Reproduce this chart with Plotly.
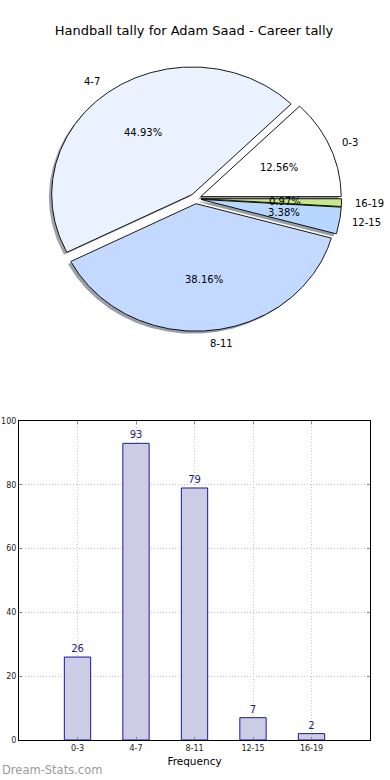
import numpy as np
import plotly.graph_objects as go

# ---- data ----
categories = ["0-3", "4-7", "8-11", "12-15", "16-19"]
counts = [26, 93, 79, 7, 2]
pie_colors = ["#FFFFFF", "#EAF2FF", "#C4D9FF", "#B7D7FF", "#C5E88A"]
explode = [0.04, 0.04, 0.04, 0.04, 0.04]
title_text = "Handball tally for Adam Saad - Career tally"
y_ticks = [0, 20, 40, 60, 80, 100]

W, H = 390, 780
FONT = "DejaVu Sans"

# ---- layout geometry (pixels from top-left) ----
pie_cx, pie_cy = 195.5, 198.6      # pie centre
pie_rx, pie_ry = 140.5, 127.5      # ellipse radii
pie_top, pie_bot = 40, 380         # pie axis domain
bar_l, bar_r, bar_t, bar_b = 19, 370, 421, 740

fig = go.Figure()

# ---- pie drawn as filled polygons on its own axes ----
total = float(sum(counts))
fracs = [c / total for c in counts]
bounds = np.concatenate([[0.0], np.cumsum(fracs) * 360.0])

def wedge(t1, t2, ox, oy):
    th = np.radians(np.linspace(t1, t2, max(int((t2 - t1) * 2), 4)))
    xs = np.concatenate([[ox], ox + np.cos(th), [ox]])
    ys = np.concatenate([[oy], oy + np.sin(th), [oy]])
    return xs, ys

def hex_rgb(h):
    h = h.lstrip("#")
    return tuple(int(h[i:i + 2], 16) for i in (0, 2, 4))

# shadows first
for i, c in enumerate(counts):
    t1, t2 = bounds[i], bounds[i + 1]
    tm = np.radians((t1 + t2) / 2)
    ox, oy = explode[i] * np.cos(tm), explode[i] * np.sin(tm)
    xs, ys = wedge(t1, t2, ox - 0.02, oy - 0.02)
    r, g, b = hex_rgb(pie_colors[i])
    fig.add_trace(go.Scatter(
        x=xs, y=ys, mode="lines", fill="toself",
        fillcolor=f"rgba({int(r*0.3)},{int(g*0.3)},{int(b*0.3)},0.5)",
        line=dict(width=0), xaxis="x2", yaxis="y2",
        hoverinfo="skip", showlegend=False))

annotations = []
for i, c in enumerate(counts):
    t1, t2 = bounds[i], bounds[i + 1]
    tm = np.radians((t1 + t2) / 2)
    ox, oy = explode[i] * np.cos(tm), explode[i] * np.sin(tm)
    xs, ys = wedge(t1, t2, ox, oy)
    fig.add_trace(go.Scatter(
        x=xs, y=ys, mode="lines", fill="toself",
        fillcolor=pie_colors[i], line=dict(color="black", width=0.9),
        xaxis="x2", yaxis="y2", name=categories[i],
        hoverinfo="skip", showlegend=False))
    lx = ox + 1.1 * np.cos(tm)
    ly = oy + 1.1 * np.sin(tm)
    left = lx > 0
    annotations.append(dict(
        x=lx, y=ly, xref="x2", yref="y2", text=categories[i],
        showarrow=False, xanchor="left" if left else "right",
        xshift=-3 if left else 1,
        yanchor="middle", font=dict(family=FONT, size=10, color="black")))
    px_, py_ = ox + 0.6 * np.cos(tm), oy + 0.6 * np.sin(tm)
    annotations.append(dict(
        x=px_, y=py_, xref="x2", yref="y2",
        text=f"{fracs[i]*100:.2f}%", showarrow=False,
        xanchor="center", yanchor="middle",
        font=dict(family=FONT, size=10, color="black")))

# pie axes ranges so that 1 unit = pie_rx px horizontally, pie_ry px vertically
x2_range = [(0 - pie_cx) / pie_rx, (W - pie_cx) / pie_rx]
y2_range = [-(pie_bot - pie_cy) / pie_ry, (pie_cy - pie_top) / pie_ry]

# ---- bar chart ----
xpos = list(range(len(categories)))
fig.add_trace(go.Bar(
    x=xpos, y=counts, width=0.45,
    marker=dict(color="#CCCCE5", line=dict(color="#1A1A99", width=1)),
    text=[str(c) for c in counts], textposition="outside",
    textfont=dict(family=FONT, size=10, color="#1A1A80"),
    cliponaxis=False, hoverinfo="skip", showlegend=False))

annotations.append(dict(
    x=0, y=1 - 770 / H, xref="paper", yref="paper",
    text="Dream-Stats.com", showarrow=False,
    xanchor="left", yanchor="middle",
    font=dict(family=FONT, size=11.5, color="#9A9A9A")))

grid_style = dict(showgrid=True, gridcolor="#C4C4C4", griddash="1px,2px",
                  gridwidth=1)

fig.update_layout(
    width=W, height=H,
    margin=dict(l=0, r=0, t=0, b=0, autoexpand=False),
    paper_bgcolor="white", plot_bgcolor="white",
    font=dict(family=FONT, color="black"),
    title=dict(text=title_text, x=194 / W, y=1 - 30 / H,
               xanchor="center", yanchor="middle",
               font=dict(family=FONT, size=13, color="black")),
    annotations=annotations,
    xaxis=dict(domain=[bar_l / W, bar_r / W], range=[-1, 5],
               tickvals=xpos, ticktext=categories, automargin=False,
               showline=True, linecolor="black", linewidth=1, mirror="allticks",
               ticks="inside", ticklen=3, tickcolor="#888",
               zeroline=False, layer="above traces",
               tickfont=dict(family=FONT, size=8, color="#222"),
               title=dict(text="Frequency", standoff=6,
                          font=dict(family=FONT, size=10.5, color="black")),
               fixedrange=True, **grid_style),
    yaxis=dict(domain=[1 - bar_b / H, 1 - bar_t / H], range=[0, 100],
               tickvals=y_ticks, automargin=False,
               showline=True, linecolor="black", linewidth=1, mirror="allticks",
               ticks="inside", ticklen=3, tickcolor="#888",
               zeroline=False, layer="above traces",
               tickfont=dict(family=FONT, size=8, color="#222"),
               fixedrange=True, **grid_style),
    xaxis2=dict(domain=[0, 1], range=x2_range, visible=False, fixedrange=True,
                anchor="y2", automargin=False),
    yaxis2=dict(domain=[1 - pie_bot / H, 1 - pie_top / H], range=y2_range,
                visible=False, fixedrange=True, anchor="x2", automargin=False),
)

fig.write_html("out.html",
               config={"displayModeBar": False},
               post_script="document.body.style.margin='0';")
